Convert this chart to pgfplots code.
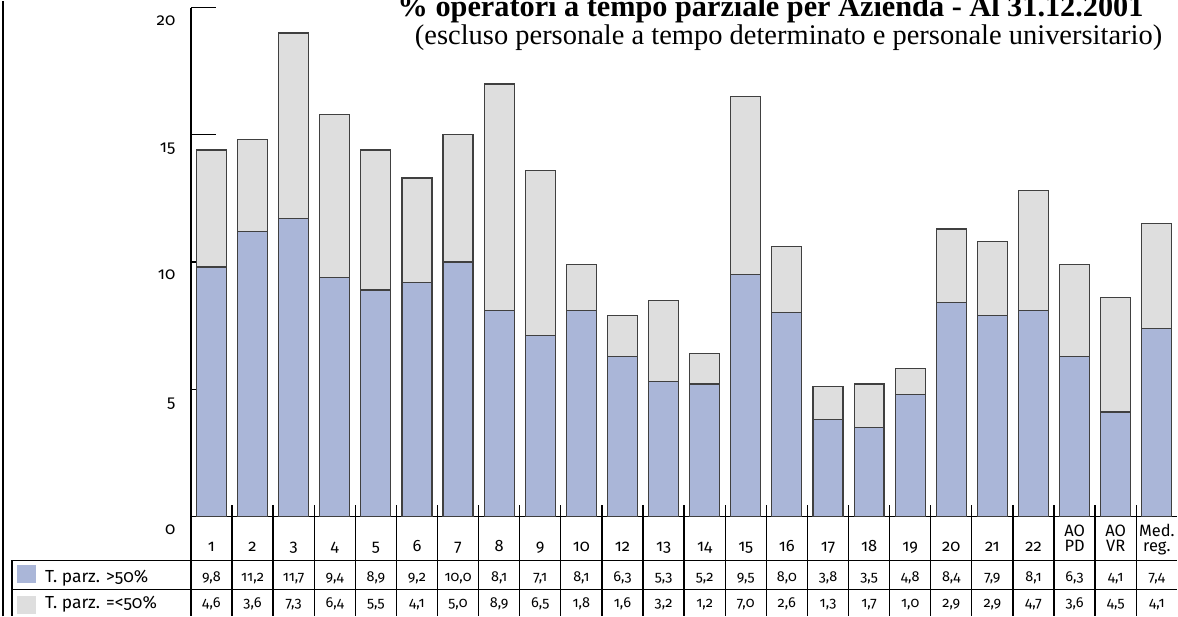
\documentclass[border=0pt]{standalone}
\usepackage{fontspec}
\setmainfont{Fira Sans}[Numbers={OldStyle,Proportional}]
\newfontfamily\titlefont{Liberation Serif}
\usepackage{pgfplots}
\usepackage{pgfplotstable}
\pgfplotsset{compat=1.18}

\definecolor{blu}{RGB}{170,182,216}
\definecolor{grigio}{RGB}{222,222,222}

% a = T. parz. >50%, b = T. parz. =<50%
\pgfplotstableread{
x a b
0 9.8 4.6
1 11.2 3.6
2 11.7 7.3
3 9.4 6.4
4 8.9 5.5
5 9.2 4.1
6 10.0 5.0
7 8.1 8.9
8 7.1 6.5
9 8.1 1.8
10 6.3 1.6
11 5.3 3.2
12 5.2 1.2
13 9.5 7.0
14 8.0 2.6
15 3.8 1.3
16 3.5 1.7
17 4.8 1.0
18 8.4 2.9
19 7.9 2.9
20 8.1 4.7
21 6.3 3.6
22 4.1 4.5
23 7.4 4.1
}\dati

\pgfplotsset{tabnum/.style={draw=none, nodes near coords,
  every node near coord/.append style={anchor=base, font=\fontsize{14.5}{15}\selectfont},
  /pgf/number format/fixed, /pgf/number format/fixed zerofill,
  /pgf/number format/precision=1, /pgf/number format/use comma}}

\begin{document}
\begin{tikzpicture}[x=1bp,y=1bp]
\path (0,0) rectangle (1178,616);
\begin{axis}[
  at={(191bp,100bp)}, anchor=south west,
  scale only axis, width=987bp, height=509bp,
  xmin=-0.5, xmax=23.5, ymin=0, ymax=20,
  axis x line=bottom, axis y line=left,
  axis line style={-, line width=1.3bp, black},
  ytick={0,5,10,15,20},
  tick align=inside, major tick length=25bp,
  ytick style={line width=1.3bp, black},
  xtick={0,...,23}, xtick style={draw=none},
  xticklabels={1,2,3,4,5,6,7,8,9,10,12,13,14,15,16,17,18,19,20,21,22,{AO\\PD},{AO\\VR},{Med.\\reg.}},
  xticklabel style={font=\fontsize{16.5}{15}\selectfont, align=center, anchor=base, yshift=-35bp},
  yticklabel style={font=\fontsize{17}{17}\selectfont, anchor=base east, yshift=-18bp, xshift=-12bp},
  /pgf/number format/assume math mode=true,
  clip=false,
]
\addplot[ybar, bar width=30bp, bar shift=0pt, fill=grigio, draw=black!75, line width=1.2bp]
  table[x=x, y expr=\thisrow{a}+\thisrow{b}] {\dati};
\addplot[ybar, bar width=30bp, bar shift=0pt, fill=blu, draw=black!75, line width=1.2bp]
  table[x=x, y=a] {\dati};
% righe della tabella
\addplot[tabnum, point meta=\thisrow{a}] table[x=x, y expr=-2.55] {\dati};
\addplot[tabnum, point meta=\thisrow{b}] table[x=x, y expr=-3.57] {\dati};
\end{axis}
% griglia tabella
\draw[line width=1.3bp] (12,56) -- (1178,56);
\draw[line width=1.3bp] (12,27) -- (1178,27);
\draw[line width=1.3bp] (12,56) -- (12,0);
\foreach \i in {0,...,23} \draw[line width=1.3bp] ({191+41.125*\i},111) -- ({191+41.125*\i},0);
\draw[line width=1.3bp] (3,0) -- (3,616);
% legenda
\fill[blu] (17,33) rectangle (36,51);
\fill[grigio] (17,2) rectangle (36,20);
\node[anchor=base west, inner sep=0, font=\fontsize{17.5}{17}\selectfont] at (45,34) {T. parz. >50\%};
\node[anchor=base west, inner sep=0, font=\fontsize{17.5}{17}\selectfont] at (45,8) {T. parz. =<50\%};
% titolo (tagliato in alto come nell'originale)
\begin{scope}
\clip (0,0) rectangle (1178,616);
\node[anchor=base, inner sep=0, font=\titlefont\bfseries\fontsize{30.4}{31}\selectfont] at (771,600)
  {\% operatori a tempo parziale per Azienda - Al 31.12.2001};
\node[anchor=base, inner sep=0, font=\titlefont\fontsize{28.6}{29}\selectfont] at (789,572)
  {(escluso personale a tempo determinato e personale universitario)};
\end{scope}
\end{tikzpicture}
\end{document}
